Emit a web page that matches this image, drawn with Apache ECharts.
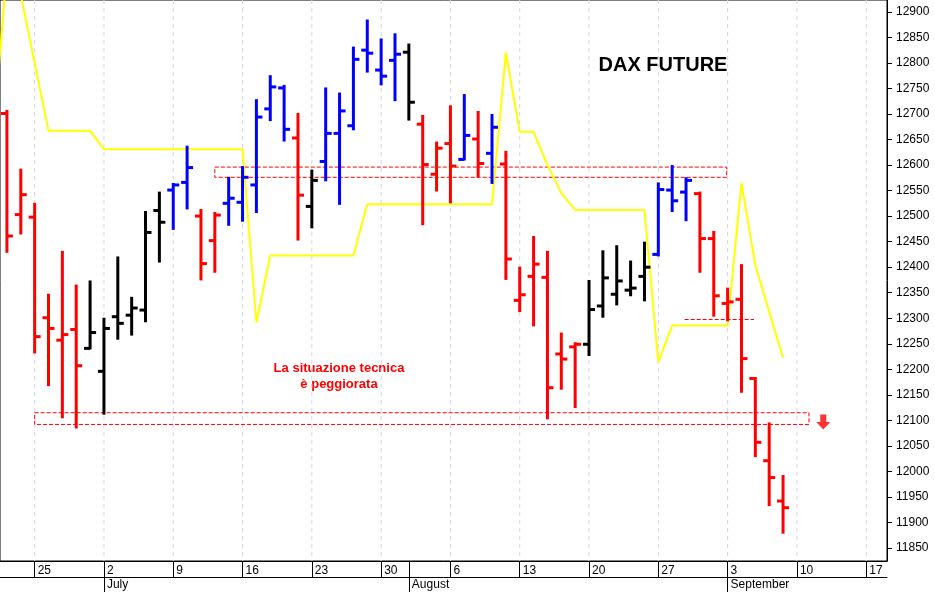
<!DOCTYPE html>
<html><head><meta charset="utf-8">
<script src="https://cdn.jsdelivr.net/npm/echarts@6/dist/echarts.min.js"></script>
<style>html,body{margin:0;padding:0;background:#fff}#c{width:935px;height:592px}</style>
</head><body><div id="c"></div>
<script>
// trading-day index (0 = Thu 21 June)
const opens  = [12701,12503,12498,12301,12257,12278,12241,12196,12303,12306,12316,12511,12551,12566,12500,12452,12525,12527,12561,12710,12751,12653,12519,12607,12662,12677,12825,12786,12805,12821,12680,12582,12642,12611,12651,12623,12602,12335,12382,12380,12230,12244,12249,12324,12347,12355,12382,12425,12551,12547,12544,12456,12329,12337,12182,12021,11942];
const highs  = [12706,12591,12524,12346,12430,12364,12372,12299,12419,12340,12508,12546,12563,12636,12512,12506,12575,12596,12727,12774,12755,12700,12589,12750,12740,12830,12883,12846,12856,12836,12696,12644,12715,12737,12704,12698,12626,12399,12459,12430,12270,12251,12373,12431,12441,12411,12448,12564,12598,12574,12546,12469,12358,12404,12183,12094,11991];
const lows   = [12430,12466,12233,12169,12106,12086,12241,12113,12260,12268,12294,12411,12475,12515,12376,12391,12483,12491,12508,12688,12648,12454,12478,12570,12524,12670,12783,12758,12727,12689,12484,12550,12527,12611,12578,12565,12377,12314,12286,12104,12162,12126,12228,12303,12327,12345,12335,12423,12510,12492,12391,12305,12296,12156,12030,11934,11880];
const closes = [12461,12542,12264,12280,12268,12207,12272,12280,12290,12320,12468,12488,12561,12595,12407,12502,12535,12576,12694,12753,12670,12541,12570,12662,12706,12807,12819,12774,12817,12723,12601,12633,12598,12658,12603,12674,12416,12346,12406,12164,12220,12249,12317,12379,12373,12359,12400,12552,12530,12570,12456,12344,12332,12221,12057,11988,11929];
// 0 red, 1 black, 2 blue
const barColors = [0,0,0,0,0,0,1,1,1,1,1,1,2,2,0,0,2,2,2,2,2,0,1,2,2,2,2,2,2,1,0,0,0,2,0,2,0,0,0,0,0,0,1,1,1,1,1,2,2,2,0,0,0,0,0,0,0];
// yellow indicator, starting at index -1
const yellow = [12655,12982,12933,12800,12667,12667,12667,12667,12631,12631,12631,12631,12631,12631,12631,12631,12631,12631,12631,12292,12423,12423,12423,12423,12423,12423,12423,12523,12523,12523,12523,12523,12523,12523,12523,12523,12523,12820,12665,12665,12600,12545,12512,12512,12512,12512,12512,12512,12214,12286,12286,12286,12286,12286,12565,12404,12313,12222];
const weekTicks = [0,5,10,15,20,25,30,35,40,45,50,55,60];
const weekLabels = ['25','2','9','16','23','30','6','13','20','27','3','10','17'];
const monthTicks = [5,27,50];
const monthLabels = ['July','August','September'];
const yTicks = [11850,11900,11950,12000,12050,12100,12150,12200,12250,12300,12350,12400,12450,12500,12550,12600,12650,12700,12750,12800,12850,12900];
const palette = ['#ff0000','#000000','#0000ff'];
const OFF = 2; // x value = index - OFF (Mon 25 June = 0)

const ohlc = opens.map((o,i)=>[i-OFF,o,highs[i],lows[i],closes[i],barColors[i]]);
const yel = yellow.map((v,i)=>[i-1-OFF,v]);

const chart = echarts.init(document.getElementById('c'));
chart.setOption({
  animation:false,
  grid:{left:0,right:48,top:0,bottom:31,show:true,borderColor:'#000',borderWidth:1,backgroundColor:'#fff'},
  xAxis:[{
    type:'value',min:-2.5,max:61.5,position:'bottom',
    axisLine:{show:true,onZero:false,lineStyle:{color:'#000',width:1}},
    axisTick:{show:true,length:16,customValues:weekTicks.concat([27]),lineStyle:{color:'#000'}},
    axisLabel:{customValues:weekTicks,formatter:v=>weekLabels[weekTicks.indexOf(v)],align:'left',padding:[0,0,0,3],margin:4,color:'#000',fontSize:12,fontFamily:'Liberation Sans, Arial'},
    splitLine:{show:false}
  },{
    type:'value',min:-2.5,max:61.5,position:'bottom',offset:16,
    axisLine:{show:true,onZero:false,lineStyle:{color:'#000',width:1}},
    axisTick:{show:true,length:16,customValues:monthTicks,lineStyle:{color:'#000'}},
    axisLabel:{customValues:monthTicks,formatter:v=>monthLabels[monthTicks.indexOf(v)],align:'left',padding:[0,0,0,3],margin:2,color:'#000',fontSize:12,fontFamily:'Liberation Sans, Arial'},
    splitLine:{show:false}
  }],
  yAxis:{
    type:'value',min:11824.6,max:12923.2,position:'right',
    axisLine:{show:true,onZero:false,lineStyle:{color:'#000'}},
    axisTick:{show:true,length:5,customValues:yTicks,lineStyle:{color:'#000'}},
    axisLabel:{customValues:yTicks,formatter:v=>String(v),color:'#000',fontSize:12,margin:9,fontFamily:'Liberation Sans, Arial'},
    splitLine:{show:false}
  },
  series:[{
    type:'custom',data:weekTicks.map(v=>[v]),encode:{x:0},z:0,silent:true,
    renderItem:function(params,api){
      const x=api.coord([api.value(0),12923.2])[0];
      const cs=params.coordSys;
      return {type:'line',shape:{x1:x,y1:cs.y,x2:x,y2:cs.y+cs.height},style:{stroke:'#d4d4ee',lineWidth:1,lineDash:[4,4]}};
    }
  },{
    type:'line',data:yel,showSymbol:false,symbol:'none',lineStyle:{color:'#ffff00',width:2},z:2,
    markArea:{silent:true,itemStyle:{color:'rgba(0,0,0,0)',borderColor:'#ff0000',borderWidth:1,borderType:'dashed'},
      data:[[{xAxis:13,yAxis:12596},{xAxis:49.93,yAxis:12576}],[{xAxis:0,yAxis:12115},{xAxis:55.87,yAxis:12092}]]},
    markLine:{silent:true,symbol:'none',label:{show:false},lineStyle:{color:'#ff0000',type:'dashed',width:1},
      data:[[{coord:[46.9,12298]},{coord:[51.9,12298]}]]}
  },{
    type:'custom',data:ohlc,encode:{x:0,y:[1,2,3,4]},z:3,
    renderItem:function(params,api){
      const x=api.value(0);
      const pH=api.coord([x,api.value(2)]),pL=api.coord([x,api.value(3)]);
      const pO=api.coord([x,api.value(1)]),pC=api.coord([x,api.value(4)]);
      const col=palette[api.value(5)];
      const st={stroke:col,lineWidth:3};
      return {type:'group',children:[
        {type:'line',shape:{x1:pH[0],y1:pH[1]-1,x2:pL[0],y2:pL[1]+1},style:st},
        {type:'line',shape:{x1:pO[0]-6,y1:pO[1],x2:pO[0],y2:pO[1]},style:st},
        {type:'line',shape:{x1:pC[0],y1:pC[1],x2:pC[0]+6,y2:pC[1]},style:st}
      ]};
    }
  },{
    type:'scatter',data:[[56.9,12097]],symbol:'path://M4,0 L10,0 L10,7 L14,7 L7,14 L0,7 L4,7 Z',symbolSize:[14,15],
    itemStyle:{color:'#ff0000'},silent:true,z:4
  }],
  graphic:[
    {type:'text',x:663,y:65,style:{text:'DAX FUTURE',fill:'#000',align:'center',verticalAlign:'middle',font:'bold 20px "Liberation Sans", Arial'}},
    {type:'text',x:339,y:376,style:{text:'La situazione tecnica\nè peggiorata',fill:'#ff0000',align:'center',verticalAlign:'middle',lineHeight:16,font:'bold 13px "Liberation Sans", Arial'}}
  ]
});
</script></body></html>
